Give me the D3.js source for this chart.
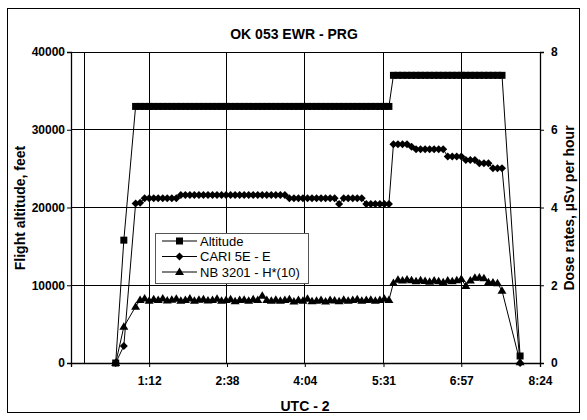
<!DOCTYPE html>
<html><head><meta charset="utf-8">
<script src="https://cdn.jsdelivr.net/npm/d3@7"></script>
<style>
html,body{margin:0;padding:0;background:#fff;}
svg{display:block;font-family:"Liberation Sans",Arial,sans-serif;}
</style></head><body>
<svg id="chart" width="587" height="420"></svg>
<script>
// Flight OK 053 Newark -> Prague: altitude and on-board dose rates
const chartTitle = "OK 053 EWR - PRG";
const xTickLabels = ["1:12", "2:38", "4:04", "5:31", "6:57", "8:24"];
const altTicks = [0, 10000, 20000, 30000, 40000];
const doseTicks = [0, 2, 4, 6, 8];
const seriesNames = ["Altitude", "CARI 5E - E", "NB 3201 - H*(10)"];

// minutes after 0:00 (UTC - 2)
const timeMin = [35, 44,
  57, 62, 67, 72, 77, 82, 87, 92, 97, 102, 107, 112, 117, 122, 127, 132, 137, 142, 147, 152,
  157, 162, 167, 172, 177, 182, 187, 192, 197, 202, 207, 212, 217, 222, 227, 232, 237, 242,
  247, 252, 257, 262, 267, 272, 277, 282, 287, 292, 297, 302, 307, 312, 317, 322, 327, 332, 337,
  342, 347, 352, 357, 362, 367, 372, 377, 382, 387, 392, 397, 402, 407, 412, 417, 422, 427,
  432, 437, 442, 447, 452, 457, 462,
  482];

// flight altitude, feet
const altitude = [0, 15800,
  33000, 33000, 33000, 33000, 33000, 33000, 33000, 33000, 33000, 33000, 33000, 33000, 33000,
  33000, 33000, 33000, 33000, 33000, 33000, 33000, 33000, 33000, 33000, 33000, 33000, 33000,
  33000, 33000, 33000, 33000, 33000, 33000, 33000, 33000, 33000, 33000, 33000, 33000, 33000,
  33000, 33000, 33000, 33000, 33000, 33000, 33000, 33000, 33000, 33000, 33000, 33000, 33000,
  33000, 33000, 33000, 33000, 33000,
  37000, 37000, 37000, 37000, 37000, 37000, 37000, 37000, 37000, 37000, 37000, 37000, 37000,
  37000, 37000, 37000, 37000, 37000, 37000, 37000, 37000, 37000, 37000, 37000, 37000,
  900];

// CARI 5E effective dose rate, uSv per hour
const cari = [0, 0.44,
  4.10, 4.12, 4.24, 4.24, 4.24, 4.24, 4.24, 4.24, 4.24, 4.24,
  4.32, 4.32, 4.32, 4.32, 4.32, 4.32, 4.32, 4.32, 4.32, 4.32, 4.32, 4.32,
  4.32, 4.32, 4.32, 4.32, 4.32, 4.32, 4.32, 4.32, 4.32, 4.32, 4.32, 4.32,
  4.24, 4.24, 4.24, 4.24, 4.24, 4.24, 4.24, 4.24, 4.24, 4.24, 4.24,
  4.09, 4.24, 4.24, 4.24, 4.24, 4.24, 4.09, 4.09, 4.09, 4.09, 4.09, 4.09,
  5.63, 5.63, 5.63, 5.63, 5.56, 5.50, 5.50, 5.50, 5.50, 5.50, 5.50, 5.50,
  5.31, 5.31, 5.31, 5.31, 5.22, 5.22, 5.22, 5.14, 5.14, 5.14, 5.01, 5.01, 5.01,
  0.0];

// NB 3201 ambient dose equivalent rate H*(10), uSv per hour
const nb = [0, 0.93,
  1.45, 1.62, 1.66, 1.60, 1.64, 1.62, 1.66, 1.61, 1.63, 1.65,
  1.60, 1.62, 1.66, 1.60, 1.63, 1.64, 1.61, 1.62, 1.65, 1.60,
  1.62, 1.64, 1.59, 1.62, 1.63, 1.60, 1.64, 1.62, 1.73, 1.62,
  1.60, 1.63, 1.60, 1.62, 1.64, 1.58, 1.62, 1.60, 1.65, 1.59,
  1.60, 1.62, 1.58, 1.62, 1.61, 1.59, 1.63, 1.60, 1.62, 1.64,
  1.60, 1.62, 1.63, 1.60, 1.62, 1.65, 1.62,
  2.06, 2.14, 2.12, 2.15, 2.13, 2.10, 2.13, 2.11, 2.09, 2.12, 2.10, 2.08, 2.12,
  2.10, 2.13, 2.16, 1.98, 2.12, 2.19, 2.20, 2.18, 2.08, 2.07, 2.05, 1.86,
  0.02];

const svg = d3.select("#chart");
const plot = {left: 71, right: 540, top: 52, bottom: 363};

// "h:mm" -> minutes
const toMin = s => { const [h, m] = s.split(":").map(Number); return h * 60 + m; };
const xTickVals = xTickLabels.map(toMin);
const xStep = (xTickVals[xTickVals.length - 1] - xTickVals[0]) / (xTickVals.length - 1);

const x = d3.scaleLinear().domain([xTickVals[0] - xStep, xTickVals[xTickVals.length - 1]]).range([plot.left, plot.right]);
const yAlt = d3.scaleLinear().domain([0, 40000]).range([plot.bottom, plot.top]);
const yDose = d3.scaleLinear().domain([0, 8]).range([plot.bottom, plot.top]);

// outer chart frame
svg.append("rect").attr("x", 7.5).attr("y", 8.5).attr("width", 572).attr("height", 404)
  .attr("fill", "#fff").attr("stroke", "#000").attr("stroke-width", 1);

// gridlines
const grid = svg.append("g").attr("stroke", "#000").attr("stroke-width", 1).attr("shape-rendering", "crispEdges");
grid.selectAll("line.h").data(altTicks).join("line")
  .attr("x1", plot.left).attr("x2", plot.right)
  .attr("y1", d => yAlt(d)).attr("y2", d => yAlt(d));
grid.selectAll("line.v").data([0].concat(xTickVals)).join("line")
  .attr("x1", d => x(d)).attr("x2", d => x(d))
  .attr("y1", plot.top).attr("y2", plot.bottom);

// axes
const axL = svg.append("g").attr("transform", `translate(${plot.left},0)`)
  .call(d3.axisLeft(yAlt).tickValues(altTicks).tickFormat(d3.format("d")).tickSizeOuter(0).tickSize(4).tickPadding(2));
const axR = svg.append("g").attr("transform", `translate(${plot.right},0)`)
  .call(d3.axisRight(yDose).tickValues(doseTicks).tickFormat(d3.format("d")).tickSizeOuter(0).tickSize(4).tickPadding(7));
const axB = svg.append("g").attr("transform", `translate(0,${plot.bottom})`)
  .call(d3.axisBottom(x).tickValues(xTickVals).tickFormat((d, i) => xTickLabels[i]).tickSizeOuter(0).tickSize(4).tickPadding(9));
[axL, axR, axB].forEach(g => {
  g.select(".domain").attr("stroke", "#000").attr("stroke-width", 1.3);
  g.selectAll(".tick line").attr("stroke", "#000");
  g.selectAll(".tick text").attr("fill", "#000").attr("font-size", 12).attr("font-weight", "bold")
    .attr("font-family", '"Liberation Sans", Arial, sans-serif');
});

// marker shapes
const markers = {
  square: (cx, cy) => `M${cx - 3.5},${cy - 3.5}h7v7h-7Z`,
  diamond: (cx, cy) => `M${cx},${cy - 4}L${cx + 4},${cy}L${cx},${cy + 4}L${cx - 4},${cy}Z`,
  triangle: (cx, cy) => `M${cx},${cy - 4.5}L${cx + 4.5},${cy + 3}L${cx - 4.5},${cy + 3}Z`
};

const series = [
  {name: seriesNames[0], vals: altitude, y: yAlt, mark: "square"},
  {name: seriesNames[1], vals: cari, y: yDose, mark: "diamond"},
  {name: seriesNames[2], vals: nb, y: yDose, mark: "triangle"}
];

const line = d3.line();
series.forEach(s => {
  const pts = timeMin.map((t, i) => [x(t), s.y(s.vals[i])]);
  const g = svg.append("g");
  g.append("path").attr("d", line(pts)).attr("fill", "none").attr("stroke", "#000").attr("stroke-width", 1);
  g.selectAll("path.m").data(pts).join("path").attr("class", "m")
    .attr("d", p => markers[s.mark](p[0], p[1])).attr("fill", "#000");
});

// legend
const lg = svg.append("g").attr("transform", "translate(155,233)");
lg.append("rect").attr("x", 0.5).attr("y", 0.5).attr("width", 153).attr("height", 50)
  .attr("fill", "#fff").attr("stroke", "#555").attr("stroke-width", 1);
series.forEach((s, i) => {
  const cy = 8 + i * 15.5;
  lg.append("line").attr("x1", 7).attr("x2", 42).attr("y1", cy).attr("y2", cy).attr("stroke", "#000");
  lg.append("path").attr("d", markers[s.mark](24.5, cy)).attr("fill", "#000");
  lg.append("text").attr("x", 45).attr("y", cy + 4.5).attr("font-size", 13).attr("fill", "#000").text(s.name);
});

// titles
svg.append("text").attr("x", 294).attr("y", 39).attr("text-anchor", "middle")
  .attr("font-size", 14).attr("font-weight", "bold").text(chartTitle);
svg.append("text").attr("transform", "translate(25,208) rotate(-90)").attr("text-anchor", "middle")
  .attr("font-size", 14).attr("font-weight", "bold").text("Flight altitude, feet");
svg.append("text").attr("transform", "translate(574,208) rotate(-90)").attr("text-anchor", "middle")
  .attr("font-size", 14).attr("font-weight", "bold").text("Dose rates, µSv per hour");
svg.append("text").attr("x", 305).attr("y", 411).attr("text-anchor", "middle")
  .attr("font-size", 14).attr("font-weight", "bold").text("UTC - 2");
</script></body></html>
